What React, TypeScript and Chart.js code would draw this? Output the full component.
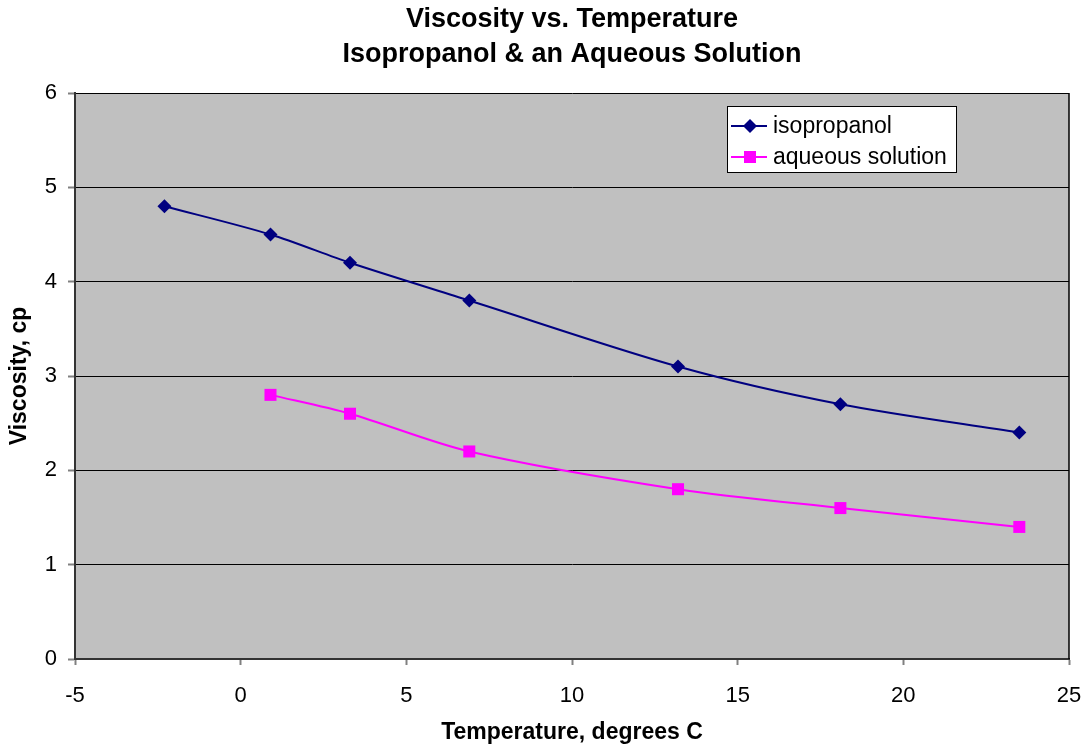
import React, { useEffect, useRef } from "react";
import { Chart, registerables } from "chart.js";

Chart.register(...registerables);

const isoTemps = [-2.3, 0.9, 3.3, 6.9, 13.2, 18.1, 23.5];
const isoVisc = [4.8, 4.5, 4.2, 3.8, 3.1, 2.7, 2.4];
const aqTemps = [0.9, 3.3, 6.9, 13.2, 18.1, 23.5];
const aqVisc = [2.8, 2.6, 2.2, 1.8, 1.6, 1.4];
const titleLines = ["Viscosity vs. Temperature", "Isopropanol & an Aqueous Solution"];
const seriesNames = ["isopropanol", "aqueous solution"];

const FONT = "'Liberation Sans', Arial, sans-serif";

const bgPlugin = {
  id: "plotBg",
  beforeDraw(chart: any) {
    const { ctx, chartArea: a } = chart;
    ctx.save();
    ctx.fillStyle = "#C0C0C0";
    ctx.fillRect(a.left, a.top, a.right - a.left, a.bottom - a.top);
    ctx.restore();
  },
  afterDraw(chart: any) {
    const { ctx, chartArea: a } = chart;
    ctx.save();
    ctx.strokeStyle = "#000";
    ctx.lineWidth = 1.5;
    ctx.beginPath();
    ctx.moveTo(a.right, a.top);
    ctx.lineTo(a.right, a.bottom);
    ctx.stroke();
    const cx = (a.left + a.right) / 2;
    ctx.fillStyle = "#000";
    ctx.font = `bold 27px ${FONT}`;
    ctx.textAlign = "center";
    ctx.textBaseline = "middle";
    ctx.fillText(titleLines[0], cx, 20);
    ctx.fillText(titleLines[1], cx, 55);
    const lx = 727, ly = 106, lw = 229, lh = 66;
    ctx.fillStyle = "#fff";
    ctx.fillRect(lx, ly, lw, lh);
    ctx.strokeStyle = "#000";
    ctx.lineWidth = 1;
    ctx.strokeRect(lx + 0.5, ly + 0.5, lw, lh);
    const rows = [
      { y: 126, color: "#000080", shape: "diamond" },
      { y: 157, color: "#FF00FF", shape: "square" },
    ];
    rows.forEach((r, i) => {
      ctx.strokeStyle = r.color;
      ctx.lineWidth = 2;
      ctx.beginPath();
      ctx.moveTo(731, r.y);
      ctx.lineTo(767, r.y);
      ctx.stroke();
      ctx.fillStyle = r.color;
      if (r.shape === "diamond") {
        ctx.beginPath();
        ctx.moveTo(750, r.y - 7);
        ctx.lineTo(757, r.y);
        ctx.lineTo(750, r.y + 7);
        ctx.lineTo(743, r.y);
        ctx.closePath();
        ctx.fill();
      } else {
        ctx.fillRect(744, r.y - 6, 12, 12);
      }
      ctx.fillStyle = "#000";
      ctx.font = `23px ${FONT}`;
      ctx.textAlign = "left";
      ctx.textBaseline = "middle";
      ctx.fillText(seriesNames[i], 773, r.y + 1);
    });
    ctx.restore();
  },
};

export default function App() {
  const ref = useRef<HTMLCanvasElement>(null);
  useEffect(() => {
    if (!ref.current) return;
    const chart = new Chart(ref.current, {
      type: "scatter",
      data: {
        datasets: [
          {
            label: seriesNames[0],
            data: isoTemps.map((x, i) => ({ x, y: isoVisc[i] })),
            showLine: true,
            borderColor: "#000080",
            backgroundColor: "#000080",
            borderWidth: 2,
            pointStyle: "rectRot",
            pointRadius: 7,
            pointBorderWidth: 0,
            tension: 0.3,
          },
          {
            label: seriesNames[1],
            data: aqTemps.map((x, i) => ({ x, y: aqVisc[i] })),
            showLine: true,
            borderColor: "#FF00FF",
            backgroundColor: "#FF00FF",
            borderWidth: 2,
            pointStyle: "rect",
            pointRadius: 8.5,
            pointBorderWidth: 0,
            tension: 0.3,
          },
        ],
      },
      options: {
        animation: false,
        responsive: false,
        devicePixelRatio: 1,
        layout: { padding: { top: 93, right: 17, left: 0, bottom: 0 } },
        plugins: { legend: { display: false }, title: { display: false }, tooltip: { enabled: false } },
        scales: {
          x: {
            type: "linear",
            min: -5,
            max: 25,
            ticks: { stepSize: 5, color: "#000", font: { size: 22, family: FONT }, padding: 18 },
            grid: { drawOnChartArea: false, tickLength: 6, tickColor: "#808080", tickWidth: 2 },
            border: { color: "#333", width: 2 },
            title: {
              display: true,
              text: "Temperature, degrees C",
              color: "#000",
              font: { size: 23, weight: "bold", family: FONT },
              padding: { top: 0, bottom: 2 },
            },
            afterFit(scale: any) {
              scale.height = 89;
              scale.paddingLeft = 0;
              scale.paddingRight = 0;
            },
          },
          y: {
            min: 0,
            max: 6,
            ticks: { stepSize: 1, color: "#000", font: { size: 22, family: FONT }, padding: 11 },
            grid: { color: "#000", lineWidth: 1, tickLength: 7, tickColor: "#808080", tickWidth: 2 },
            border: { color: "#333", width: 2 },
            title: {
              display: true,
              text: "Viscosity, cp",
              color: "#000",
              font: { size: 23, weight: "bold", family: FONT },
              padding: { top: 6, bottom: 0 },
            },
            afterFit(scale: any) {
              scale.width = 75;
              scale.paddingTop = 0;
              scale.paddingBottom = 0;
            },
          },
        },
      },
      plugins: [bgPlugin],
    });
    return () => chart.destroy();
  }, []);
  return (
    <div style={{ position: "fixed", left: 0, top: 0, width: 1086, height: 748, background: "#fff" }}>
      <canvas ref={ref} width={1086} height={748} style={{ width: 1086, height: 748, display: "block" }} />
    </div>
  );
}
